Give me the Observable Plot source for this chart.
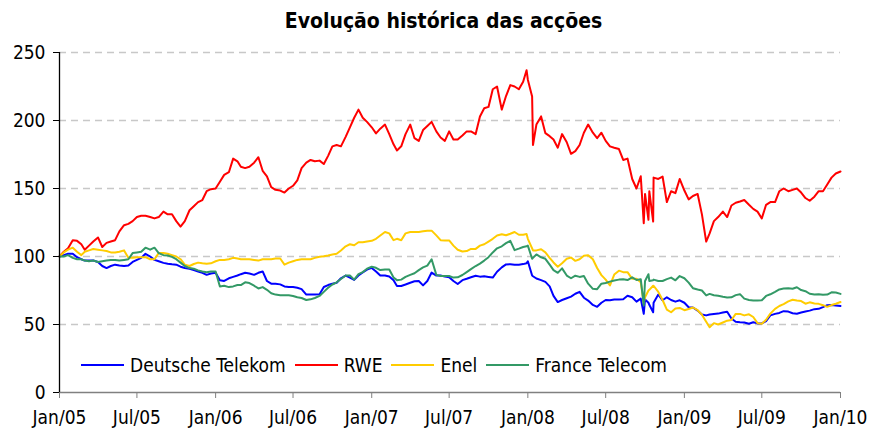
<!DOCTYPE html>
<html><head><meta charset="utf-8">
<script src="https://cdn.jsdelivr.net/npm/d3@7"></script>
<script src="https://cdn.jsdelivr.net/npm/@observablehq/plot@0.6"></script>
<style>
html,body{margin:0;padding:0;background:#fff;}
#wrap{position:relative;width:877px;height:430px;font-family:"DejaVu Sans Condensed","DejaVu Sans",sans-serif;color:#000;}
#title{height:40px;box-sizing:border-box;padding-left:10px;text-align:center;font-weight:bold;font-size:21px;line-height:42px;}
#chart svg{display:block;}
#legend{position:absolute;left:81px;top:355px;height:20px;display:flex;align-items:center;font-size:19px;white-space:nowrap;}
#legend .sw{display:inline-block;width:43px;height:2px;margin-right:6px;}
#legend .lb{margin-right:9px;}
</style></head><body>
<div id="wrap"><div id="title">Evolução histórica das acções</div><div id="chart"></div><div id="legend"></div></div>
<script>
const dates = [
"2005-01-01","2005-01-11","2005-01-21","2005-02-01","2005-02-11","2005-02-21","2005-03-01","2005-03-11","2005-03-21","2005-04-01","2005-04-11","2005-04-21","2005-05-01","2005-05-11","2005-05-21","2005-06-01","2005-06-11","2005-06-21","2005-07-01","2005-07-11","2005-07-21","2005-08-01","2005-08-11","2005-08-21","2005-09-01","2005-09-11","2005-09-21","2005-10-01","2005-10-11","2005-10-21","2005-11-01","2005-11-11","2005-11-21","2005-12-01","2005-12-11","2005-12-21",
"2006-01-01","2006-01-11","2006-01-21","2006-02-01","2006-02-11","2006-02-21","2006-03-01","2006-03-11","2006-03-21","2006-04-01","2006-04-11","2006-04-21","2006-05-01","2006-05-11","2006-05-21","2006-06-01","2006-06-11","2006-06-21","2006-07-01","2006-07-11","2006-07-21","2006-08-01","2006-08-11","2006-08-21","2006-09-01","2006-09-11","2006-09-21","2006-10-01","2006-10-11","2006-10-21","2006-11-01","2006-11-11","2006-11-21","2006-12-01","2006-12-11","2006-12-21",
"2007-01-01","2007-01-11","2007-01-21","2007-02-01","2007-02-11","2007-02-21","2007-03-01","2007-03-11","2007-03-21","2007-04-01","2007-04-11","2007-04-21","2007-05-01","2007-05-11","2007-05-21","2007-06-01","2007-06-11","2007-06-21","2007-07-01","2007-07-11","2007-07-21","2007-08-01","2007-08-11","2007-08-21","2007-09-01","2007-09-11","2007-09-21","2007-10-01","2007-10-11","2007-10-21","2007-11-01","2007-11-11","2007-11-21","2007-12-01","2007-12-11","2007-12-21","2007-12-29",
"2008-01-01","2008-01-11","2008-01-13","2008-01-21","2008-02-01","2008-02-11","2008-02-21","2008-03-01","2008-03-11","2008-03-21","2008-04-01","2008-04-11","2008-04-21","2008-05-01","2008-05-11","2008-05-21","2008-06-01","2008-06-11","2008-06-21","2008-07-01","2008-07-11","2008-07-21","2008-08-01","2008-08-11","2008-08-21","2008-09-01","2008-09-11","2008-09-21","2008-09-28","2008-10-01","2008-10-09","2008-10-11","2008-10-20","2008-10-21","2008-11-01","2008-11-11","2008-11-21","2008-12-01","2008-12-11","2008-12-21",
"2009-01-01","2009-01-11","2009-01-21","2009-02-01","2009-02-11","2009-02-21","2009-03-01","2009-03-11","2009-03-21","2009-04-01","2009-04-11","2009-04-21","2009-05-01","2009-05-11","2009-05-21","2009-06-01","2009-06-11","2009-06-21","2009-07-01","2009-07-11","2009-07-21","2009-08-01","2009-08-11","2009-08-21","2009-09-01","2009-09-11","2009-09-21","2009-10-01","2009-10-11","2009-10-21","2009-11-01","2009-11-11","2009-11-21","2009-12-01","2009-12-11","2009-12-21",
"2010-01-01"];

const seriesNames = ["Deutsche Telekom", "RWE", "Enel", "France Telecom"];
const seriesColors = ["#0000ff", "#ff0000", "#ffcc00", "#339966"];

const dtValues = [
100,101,102, 102,99.5,98, 97,97,97, 96,93,91.5, 93,94,93.4, 93,93.4,96, 97.5,99,102, 100,97.5,96.5, 95.3,94.7,94.3, 94,92.5,91.5, 91,90,89, 88,86.5,87.5,
88,82.5,82, 84,85,86, 87,88,87.5, 86.5,88,89, 82,80,80, 79.5,78,77.5, 77.5,77,76, 72,72,72, 72.3,77.6,79, 80,80.7,84, 86,84.5,82.8, 86,88.2,90.4,
91.6,89,86, 86,85.3,82.6, 78.3,78.3,79.4, 80.7,81.8,82, 78.8,82,88.2, 86,86,85.2, 84.8,82,79.8, 82.6,83.6,84.7, 85.8,85.2,85.4, 85,84.5,88.8, 92,94.2,94.3, 94,94,94.4,95,
96.5,86,85.5,83.8, 82.6,81.3,78, 71,66.5,68, 69.3,70.5,72.6, 74,69.7,67.6, 64.4,63,66, 68,67.8,68.3, 68.4,68.6,71.1, 70,66.8,69,57.8, 68.5,66,64.5,59,66, 72,67.8,70, 68,66.8,67.8,
66,62.7,62.5, 60.2,57.3,56.7, 57.4,57.8,58, 58.8,59.4,54.4, 52,51.7,51.5, 50.6,51.7,50.8, 50.8,52.5,56.7, 57.8,58.5,59.8, 59.5,58.3,57.9, 58.8,59.6,60.2, 61.3,61.5,62.8, 64.2,64.4,64,
63.6];

const rweValues = [
100,103.5,106, 112,111.5,109, 105,108,111, 114,107,110, 111,112,118.5, 123,124,126, 129,130,130, 129,128,129, 133,131,131, 126,122,126, 134,137,140, 141.5,148,149.5,
150,155,160, 162,172,170, 166,165,166, 169,173,163, 159,151,149, 148.5,147,150, 152,156,165, 169,171,170, 170.5,168,174, 181,182,181, 188,195,202, 208,202,199,
195,190.5,194, 197,190,182.5, 178,181,190, 197,187,185, 193,196,199, 192,187.5,185, 192,186,186, 189,192,192, 190,203,209, 210,223,225, 208,218,226, 225,223,228.5,237,
230,217.6,182,197, 203,190.7,188.5, 186,180,190, 184,175.5,177.5, 182,191,197, 191,187,191, 185,181,180, 179,171,172, 157,150,159,124.5, 146,127,148,125.7,158, 157,158.8,140, 148,146.6,157,
148.5,142,144.5, 146,131,111, 117,126,129, 133,129,137.5, 139.5,140.4,141.5, 138,135,133, 128,138,140, 140,148,150, 148,149,150, 147,143,141, 144,148,148, 153,158,161,
162.5];

const enelValues = [
100,103,105, 106.5,103.5,101, 103.5,104.5,105.5, 105,104.5,104, 103,103,103.5, 104.5,99,99, 99.5,99.5,99.5, 98,98,102.5, 102.5,102,101, 100,98,94, 93,94.5,95.5, 95,94.6,95,
96.5,97.5,97.5, 98,99,98.6, 98,98,98, 97.5,97,98, 98,98,98.5, 98.5,94,95.5, 96.5,97.5,98, 98,98,99, 99.8,100.2,100.8, 101.5,102,104.4, 107.5,109,108.3, 110.5,110.5,111,
111.5,113,115.4, 118,117,112, 113,112,117, 118,118,118, 118.5,119,119, 115.5,112,111.8, 111.8,108,105, 103.7,104,105.6, 105.6,108,109, 111,113,115.5, 116.3,115.6,116.7, 118,116,116,116.5,
113,106,104.5,104.5, 105.3,103,99, 95.6,92.5,95, 98.3,99.3,96.8, 98,100.5,101, 98,91.5,86.3, 83,78.7,86.7, 89.6,88.5,88.5, 83.6,83.6,81,66, 70,75,75.5,78.5,78.5, 74,68,61, 59,61.8,62.2,
60.5,61.4,62.5, 60.5,57.2,52, 48,51,50, 51.5,52.8,53.3, 57.8,57.8,56.7, 57.5,55.5,51, 50.5,53.5,58, 61.5,63.6,65, 67,68.2,67.6, 67.2,65.3,66.3, 65.4,65.2,64.2, 63,64.3,65.3,
66.5];

const ftValues = [
100,100,101, 99,98,98, 97,96.5,97, 96,96.5,97, 97.5,97.5,97, 97.5,98,102.5, 103,103.5,106.5, 105,106.5,102.5, 101,100.7,99.7, 98,95.5,93, 91.5,91,89.8, 89,88.5,89,
89,78,78.5, 77.5,78,79, 79,81,80.5, 78.5,76.5,77.5, 75.5,73,72, 71.5,71.5,71.5, 71,70,69.5, 68,68.5,69.5, 71,74,77, 79.4,81,83.5, 86,86,83, 87,88.5,91,
92.5,91.7,90, 90.5,90.5,84.5, 82.6,83,85, 86.5,87.7,90, 92,93.3,98, 86.5,85.7,85.7, 85.7,84.5,84.7, 86.4,88.5,90.7, 93,94.8,97, 99.5,103,106, 107.5,109.8,111.5, 104.7,105.8,107,107.5,
108,98.3,99,101.5, 99.4,98.3,94, 90,88,91.3, 86,84,85.9, 85,85.7,80, 76.2,76,80, 80.5,81.5,82.4, 83,83.3,82.7, 84.7,82.7,83.3,64, 82,87,82,82.5,83, 82,82,83.4, 84.5,82.5,85.6,
84,80.8,76.7, 75.7,75,71.4, 72.5,71.5,71.2, 70.4,69.9,70, 71.6,72.3,69, 68,67.6,67.6, 67.8,71,72.2, 74,75.8,76.4, 76.6,76.3,77.4, 75.3,74.5,72.6, 72,72.3,71.8, 72,73.7,73.5,
72.5];

const yTicks = [0, 50, 100, 150, 200, 250];
const xTickDates = ["2005-01-01","2005-07-01","2006-01-01","2006-07-01","2007-01-01","2007-07-01","2008-01-01","2008-07-01","2009-01-01","2009-07-01","2010-01-01"];
const xTickLabels = ["Jan/05","Jul/05","Jan/06","Jul/06","Jan/07","Jul/07","Jan/08","Jul/08","Jan/09","Jul/09","Jan/10"];

const parse = d3.utcParse("%Y-%m-%d");
const D = dates.map(parse);
const allValues = [dtValues, rweValues, enelValues, ftValues];
const rows = [];
seriesNames.forEach((name, k) => allValues[k].forEach((v, i) => rows.push({date: D[i], value: v, name})));
const tickD = xTickDates.map(parse);
const labelOf = new Map(tickD.map((d, i) => [+d, xTickLabels[i]]));
const font = '"DejaVu Sans Condensed","DejaVu Sans",sans-serif';

const chart = Plot.plot({
  width: 877, height: 390,
  marginTop: 12, marginRight: 37, marginBottom: 38, marginLeft: 59,
  style: {fontFamily: font, fontSize: "19px", color: "#000", background: "#fff", overflow: "visible"},
  x: {type: "utc", domain: [tickD[0], tickD[tickD.length - 1]]},
  y: {domain: [0, 250]},
  color: {domain: seriesNames, range: seriesColors},
  marks: [
    Plot.ruleY(yTicks.filter(v => v > 0), {stroke: "#c8c8c8", strokeWidth: 1.3, strokeDasharray: "7,5"}),
    Plot.line(rows, {x: "date", y: "value", z: "name", stroke: "name", strokeWidth: 2}),
    Plot.ruleY([0], {stroke: "#808080", strokeWidth: 1.3}),
    Plot.ruleX([tickD[0]], {stroke: "#000", strokeWidth: 1.3}),
    Plot.axisY(yTicks, {label: null, tickSize: 6, tickPadding: 8, stroke: "#000", fill: "#000", fontSize: 19}),
    Plot.axisX(tickD, {label: null, tickSize: 6, tickPadding: 12, stroke: "#808080", fill: "#000", fontSize: 19, tickFormat: d => labelOf.get(+d)})
  ]
});
document.getElementById("chart").appendChild(chart);

const legend = document.getElementById("legend");
seriesNames.forEach((name, k) => {
  const sw = document.createElement("span"); sw.className = "sw"; sw.style.background = seriesColors[k];
  const lb = document.createElement("span"); lb.className = "lb"; lb.textContent = name;
  legend.appendChild(sw); legend.appendChild(lb);
});
</script>
</body></html>
